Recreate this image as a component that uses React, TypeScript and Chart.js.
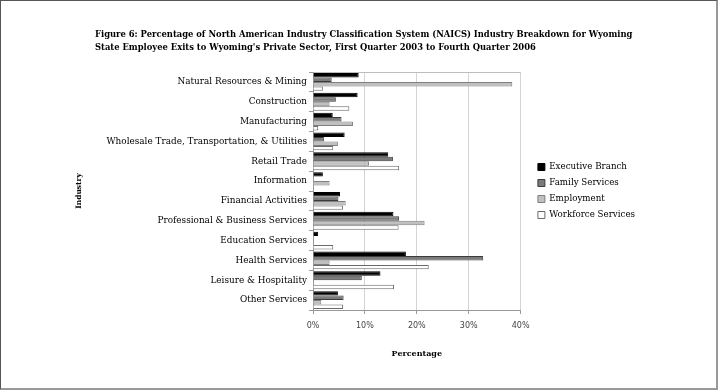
import { useEffect, useRef } from "react";
import { Chart, registerables } from "chart.js";

Chart.register(...registerables);

const categories = [
  "Natural Resources & Mining",
  "Construction",
  "Manufacturing",
  "Wholesale Trade, Transportation, & Utilities",
  "Retail Trade",
  "Information",
  "Financial Activities",
  "Professional & Business Services",
  "Education Services",
  "Health Services",
  "Leisure & Hospitality",
  "Other Services",
];

const executiveBranch = [8.8, 8.6, 3.8, 6.1, 14.5, 1.9, 5.2, 15.5, 1.0, 17.9, 13.0, 4.8];
const familyServices = [3.6, 4.4, 5.5, 2.1, 15.4, 0, 4.9, 16.6, 0, 32.8, 9.4, 5.9];
const employment = [38.4, 3.2, 7.7, 4.8, 10.8, 3.2, 6.3, 21.5, 0, 3.2, 0, 1.6];
const workforceServices = [1.9, 7.0, 1.0, 3.9, 16.6, 0, 5.8, 16.5, 3.9, 22.3, 15.6, 5.8];

const seriesNames = ["Executive Branch", "Family Services", "Employment", "Workforce Services"];
const xTickValues = [0, 10, 20, 30, 40];

const titleLines = [
  "Figure 6: Percentage of North American Industry Classification System (NAICS) Industry Breakdown for Wyoming",
  "State Employee Exits to Wyoming's Private Sector, First Quarter 2003 to Fourth Quarter 2006",
];
const xAxisTitle = "Percentage";
const yAxisTitle = "Industry";

const SERIF = '"DejaVu Serif", serif';
const SANS = '"DejaVu Sans", sans-serif';

const titlePlugin = {
  id: "figTitle",
  afterDraw(chart: any) {
    const ctx = chart.ctx;
    ctx.save();
    ctx.font = `bold 8.4px ${SERIF}`;
    ctx.fillStyle = "#000";
    ctx.textBaseline = "middle";
    ctx.textAlign = "left";
    titleLines.forEach((t, i) => ctx.fillText(t, 95, 35 + i * 13));
    ctx.restore();
  },
};

export default function App() {
  const ref = useRef<HTMLCanvasElement | null>(null);

  useEffect(() => {
    if (!ref.current) return;
    const chart = new Chart(ref.current, {
      type: "bar",
      data: {
        labels: categories,
        datasets: [
          {
            label: seriesNames[0],
            data: executiveBranch,
            backgroundColor: "#000000",
            borderColor: "#000000",
            borderWidth: 1,
          },
          {
            label: seriesNames[1],
            data: familyServices,
            backgroundColor: "#7a7a7a",
            borderColor: "#3c3c3c",
            borderWidth: 1,
          },
          {
            label: seriesNames[2],
            data: employment,
            backgroundColor: "#c0c0c0",
            borderColor: "#808080",
            borderWidth: 1,
          },
          {
            label: seriesNames[3],
            data: workforceServices,
            backgroundColor: "#ffffff",
            borderColor: "#6a6a6a",
            borderWidth: 1,
          },
        ],
      },
      options: {
        indexAxis: "y",
        responsive: true,
        maintainAspectRatio: false,
        animation: false,
        datasets: {
          bar: { categoryPercentage: 0.9, barPercentage: 1.0 },
        },
        layout: { padding: { left: 75, top: 72, bottom: 31, right: 73 } },
        plugins: {
          title: { display: false },
          tooltip: { enabled: false },
          legend: {
            display: true,
            position: "right",
            fullSize: false,
            align: "center",
            maxWidth: 200,
            labels: {
              boxWidth: 7,
              boxHeight: 7,
              padding: 7.3,
              color: "#000",
              font: { family: SERIF, size: 8.7 },
            },
          },
        },
        scales: {
          x: {
            type: "linear",
            min: 0,
            max: 40,
            afterBuildTicks: (s: any) => {
              s.ticks = xTickValues.map((v) => ({ value: v }));
            },
            afterFit: (s: any) => {
              s.height = 49;
            },
            ticks: {
              color: "#444",
              font: { family: SANS, size: 8 },
              padding: 7,
              callback: (v: any) => `${v}%`,
            },
            grid: {
              color: "#d4d4d4",
              tickColor: "#999",
              tickLength: 4,
            },
            border: { color: "#999" },
            title: {
              display: true,
              text: xAxisTitle,
              color: "#000",
              font: { family: SERIF, size: 8, weight: "bold" },
              padding: { top: 0, bottom: 0 },
            },
          },
          y: {
            type: "category",
            afterFit: (s: any) => {
              s.width = 238;
            },
            ticks: {
              color: "#000",
              font: { family: SERIF, size: 8.9 },
              padding: 2,
              autoSkip: false,
            },
            grid: {
              offset: true,
              drawOnChartArea: true,
              color: (c: any) => (c.index === 0 ? "#bdbdbd" : "rgba(0,0,0,0)"),
              tickColor: "#999",
              tickLength: 4,
            },
            border: { color: "#999" },
            title: {
              display: true,
              text: yAxisTitle,
              color: "#000",
              font: { family: SERIF, size: 7.5, weight: "bold" },
              padding: { top: 0, bottom: 0 },
            },
          },
          yGap: {
            type: "category",
            position: "right",
            display: true,
            grid: { display: false },
            ticks: { display: false },
            border: { display: false },
            afterFit: (s: any) => {
              s.width = 10;
            },
          },
        },
      },
      plugins: [titlePlugin],
    } as any);
    return () => chart.destroy();
  }, []);

  return (
    <div style={{ position: "fixed", left: 0, top: 0, width: 718, height: 390, background: "#fff" }}>
      <canvas ref={ref} />
      <div
        style={{
          position: "absolute",
          inset: 0,
          boxSizing: "border-box",
          borderTop: "1px solid #555",
          borderLeft: "1px solid #555",
          borderRight: "2px solid #999",
          borderBottom: "2px solid #999",
          pointerEvents: "none",
        }}
      />
    </div>
  );
}
